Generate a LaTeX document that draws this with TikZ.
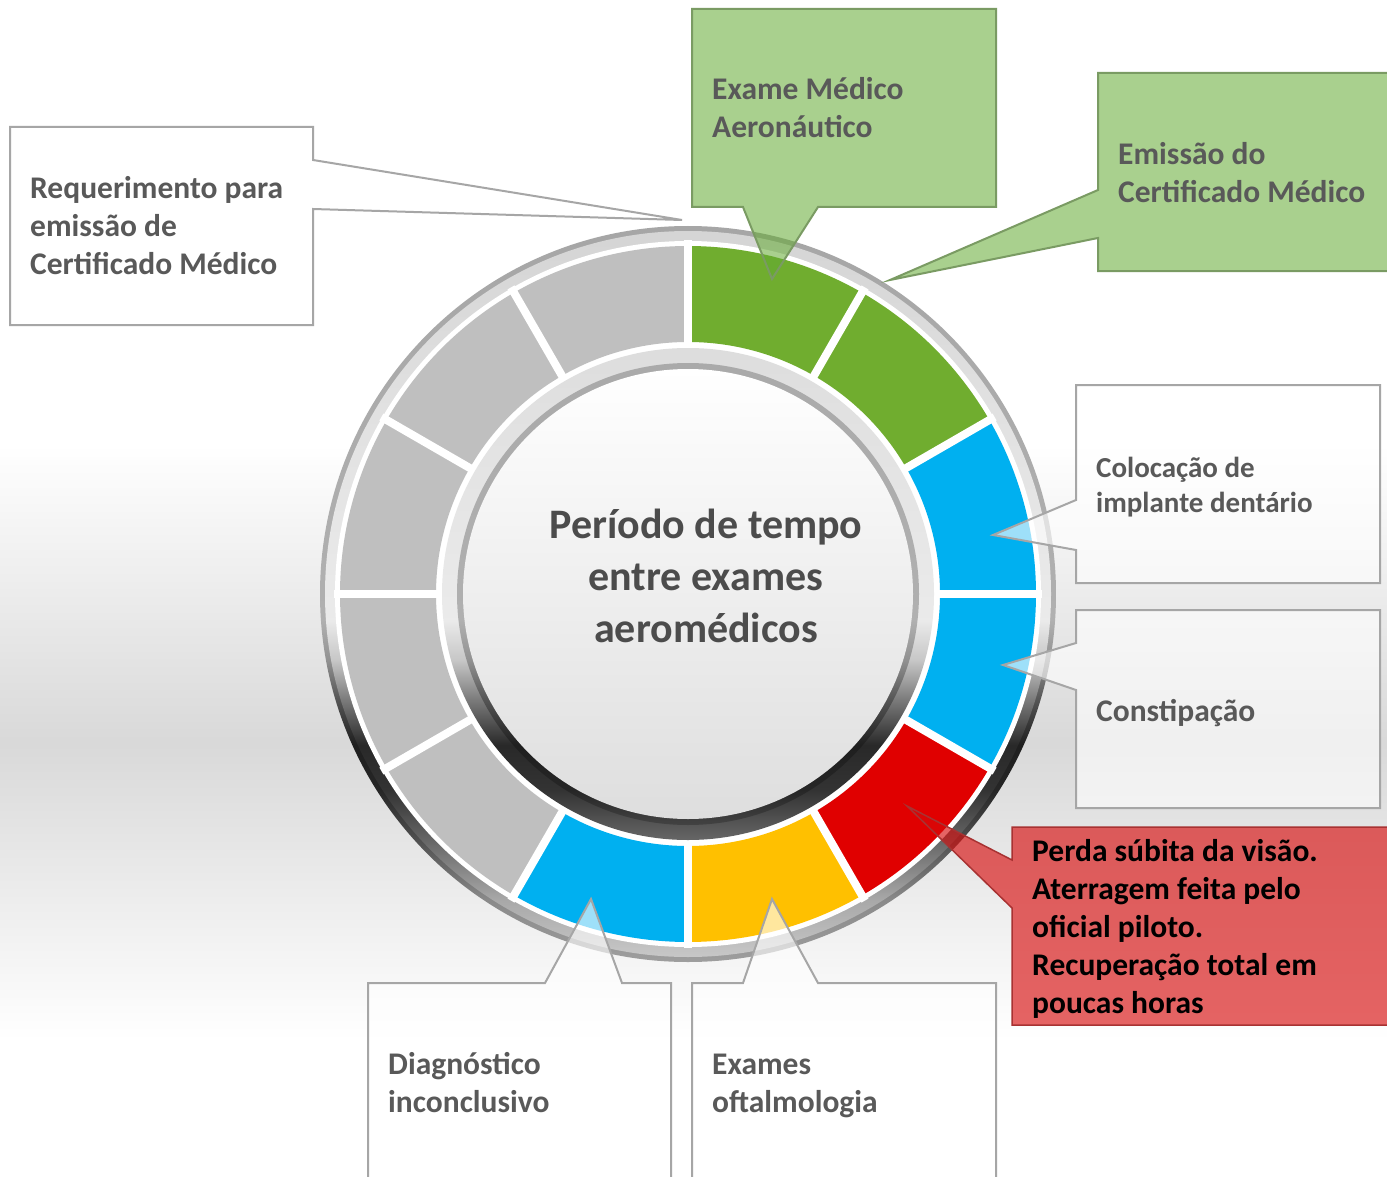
\documentclass[tikz,border=0pt]{standalone}
\usepackage{fontspec}
\setmainfont{Carlito}
\definecolor{txtgrey}{HTML}{595959}
\definecolor{segGreen}{HTML}{70AD2F}
\definecolor{segBlue}{HTML}{00B0F0}
\definecolor{segRed}{HTML}{E00000}
\definecolor{segYellow}{HTML}{FFC000}
\definecolor{segGrey}{HTML}{BFBFBF}
\definecolor{callGreen}{HTML}{63AB32}
\definecolor{callGreenLine}{HTML}{7A9B63}
\definecolor{callRed}{HTML}{D70A0A}
\definecolor{callRedLine}{HTML}{A83232}
\definecolor{boxLine}{HTML}{A6A6A6}
\pgfdeclareverticalshading{ringlight}{100bp}{color(0bp)=(black!19); color(25bp)=(black!19); color(29.67bp)=(black!34); color(33.67bp)=(black!60); color(37bp)=(black!80); color(40bp)=(black!84); color(43bp)=(black!52); color(45.67bp)=(black!22); color(48.33bp)=(black!8); color(63bp)=(black!12); color(75bp)=(black!17); color(100bp)=(black!17)}
\pgfdeclareverticalshading{ringdark}{100bp}{color(0bp)=(black!37); color(25bp)=(black!37); color(29.67bp)=(black!46); color(33.67bp)=(black!69); color(37bp)=(black!85); color(40bp)=(black!88); color(43bp)=(black!67); color(45.67bp)=(black!43); color(48.33bp)=(black!31); color(63bp)=(black!33); color(75bp)=(black!35); color(100bp)=(black!35)}
\newcommand\fmain{\fontsize{31.5}{38}\selectfont\bfseries}
\newcommand\fsmall{\fontsize{29}{35}\selectfont\bfseries}
\newcommand\fcenter{\fontsize{42}{52}\selectfont\bfseries}
\tikzset{
  boxw/.style={fill=white, fill opacity=0.62, draw=boxLine, draw opacity=1, line width=2, line join=miter},
  boxg/.style={fill=callGreen, fill opacity=0.55, draw=callGreenLine, draw opacity=1, line width=2},
  boxr/.style={fill=callRed, fill opacity=0.63, draw=callRedLine, draw opacity=1, line width=1.5},
  lbl/.style={anchor=base west, inner sep=0, align=left, text=txtgrey, font=\fmain},
}
\begin{document}
\begin{tikzpicture}[x=1pt,y=-1pt]
\useasboundingbox (0,0) rectangle (1387,1177);
\clip (0,0) rectangle (1387,1177);
\fill[white] (0,0) rectangle (1387,1177);
\shade[top color=white, bottom color=white, middle color=black!15] (0,445) rectangle (1387,1040);

\begin{scope}[shift={(688,594)}]
  \coordinate (O) at (0,0);
  \begin{scope}
    \clip (0,0) circle[radius=368];
    \shade[shading=ringdark] (-400,-374) rectangle (400,376);
  \end{scope}
  \begin{scope}
    \clip (0,0) circle[radius=363];
    \shade[shading=ringlight] (-400,-374) rectangle (400,376);
  \end{scope}
  \fill[white] (0,0) circle[radius=353];
  \foreach \k/\c in {0/segGreen,1/segGreen,2/segBlue,3/segBlue,4/segRed,5/segYellow,6/segBlue,7/segGrey,8/segGrey,9/segGrey,10/segGrey,11/segGrey}{
    \pgfmathsetmacro\a{-90+30*\k}
    \pgfmathsetmacro\b{-60+30*\k}
    \fill[\c] (\a:252) -- (\a:348) arc[start angle=\a, end angle=\b, radius=348] -- (\b:252) arc[start angle=\b, end angle=\a, radius=252] -- cycle;
  }
  \foreach \a in {-90,-60,...,240}{
    \draw[white, line width=8] (\a:246) -- (\a:354);
  }
  \begin{scope}
    \clip (0,0) circle[radius=246];
    \shade[shading=ringlight] (-400,-374) rectangle (400,376);
  \end{scope}
  \begin{scope}
    \clip (0,0) circle[radius=231];
    \shade[shading=ringdark] (-400,-374) rectangle (400,376);
  \end{scope}
  \shade[top color=white, bottom color=black!13] (0,0) circle[radius=225];
\end{scope}

% callouts
\draw[boxw] (10,127) -- (313,127) -- (313,160) -- (682,220) -- (313,209) -- (313,325) -- (10,325) -- cycle;
\draw[boxg] (692,9) -- (996,9) -- (996,207) -- (818,207) -- (772,279) -- (743,207) -- (692,207) -- cycle;
\draw[boxg] (1098,73) -- (1400,73) -- (1400,271) -- (1098,271) -- (1098,238) -- (890,280) -- (1098,190) -- cycle;
\draw[boxw] (1076,385) -- (1380,385) -- (1380,583) -- (1076,583) -- (1076,550) -- (993,535) -- (1076,500) -- cycle;
\draw[boxw] (1076,610) -- (1380,610) -- (1380,808) -- (1076,808) -- (1076,690) -- (1003,665) -- (1076,643) -- cycle;
\draw[boxr] (1012,827) -- (1400,827) -- (1400,1025) -- (1012,1025) -- (1012,908) -- (907,806) -- (1012,860) -- cycle;
\draw[boxw] (368,983) -- (545,983) -- (591,899) -- (622,983) -- (671,983) -- (671,1200) -- (368,1200) -- cycle;
\draw[boxw] (692,983) -- (743,983) -- (772,899) -- (818,983) -- (996,983) -- (996,1200) -- (692,1200) -- cycle;

% texts (anchor = baseline of last line)
\node[lbl] (req) at (30,274) {Requerimento para\\emissão de\\Certificado Médico};
\node[lbl] (exa) at (712,138) {Exame Médico\\Aeronáutico};
\node[lbl] (emi) at (1118,203) {Emissão do\\Certificado Médico};
\node[lbl, font=\fsmall] (col) at (1096,512) {Colocação de\\implante dentário};
\node[lbl] (con) at (1096,721) {Constipação};
\node[lbl, text=black] (red) at (1032,1013) {Perda súbita da visão.\\Aterragem feita pelo\\oficial piloto.\\Recuperação total em\\poucas horas};
\node[lbl] (dia) at (388,1112) {Diagnóstico\\inconclusivo};
\node[lbl] (oft) at (712,1112) {Exames\\oftalmologia};
\node[anchor=base, inner sep=0, align=center, text=black!70, font=\fcenter] (ctr) at (706,642) {Período de tempo\\entre exames\\aeromédicos};
\end{tikzpicture}
\end{document}
